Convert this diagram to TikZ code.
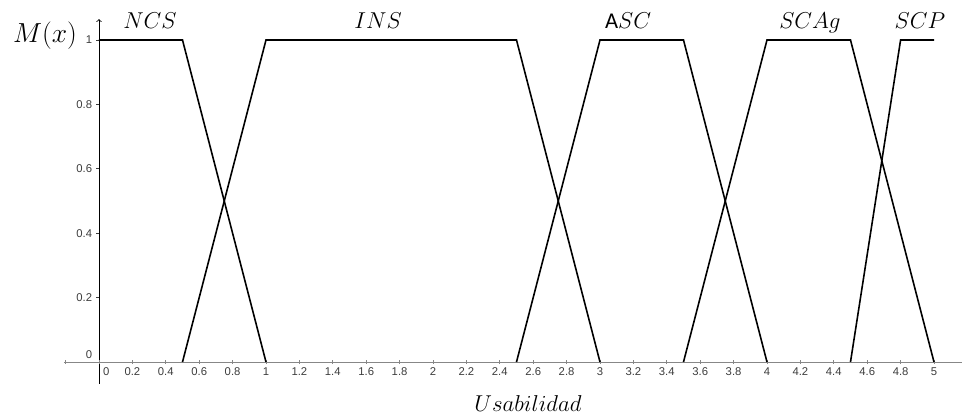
\documentclass[tikz,border=0pt]{standalone}
\usepackage{amsmath}
\usepackage{fontspec}
\newfontfamily\tickfont{Liberation Sans}
\newfontfamily\calfont{Carlito}
\usepackage{xcolor}
\usetikzlibrary{calc,positioning}
\definecolor{axisgray}{RGB}{135,135,135}
\definecolor{labelgray}{RGB}{60,60,60}

\begin{document}
\begin{tikzpicture}[x=4.4185cm,y=8.5196cm,
	ticklabel/.style={font=\tickfont\fontsize{8.5}{10}\selectfont,text=labelgray,inner sep=1pt},
	setname/.style={font=\fontsize{17}{19}\selectfont,anchor=base},
	member/.style={line width=1.2pt,black,line join=miter}]
	\useasboundingbox (-0.5928,-0.1646) rectangle (5.1677,1.1242);
	\draw [axisgray,line width=0.7pt](-0.21,0) -- (5.1677,0) coordinate(x axis);
	\draw [-to,line width=0.6pt](0,-0.068) -- (0,1.065) coordinate(y axis);
	\foreach \i in {-1,...,25}{
		\draw [axisgray,line width=0.5pt] ($(\i/5,0)+(0,1.2pt)$) -- ($(\i/5,0)+(0,-1.2pt)$);
	}
	\foreach \lab [count=\i] in {0.2,0.4,0.6,0.8,1,1.2,1.4,1.6,1.8,2,2.2,2.4,2.6,2.8,3,3.2,3.4,3.6,3.8,4,4.2,4.4,4.6,4.8,5}{
		\node [ticklabel,below=3pt] (xlab\i) at (\i/5,0) {\lab};
	}
	\node [ticklabel,below right=3pt and 2pt] (xlab0) at (0,0) {0};
	\foreach \lab [count=\i] in {0.2,0.4,0.6,0.8,1}{
		\draw [labelgray,line width=0.5pt] (0,\i/5) -- ++(-2.5pt,0);
		\node [ticklabel,left=4pt] (ylab\i) at (0,\i/5) {\lab};
	}
	\node [ticklabel,above left=1pt and 4pt] (ylab0) at (0,0) {0};
	\draw [member] (0,1) -- (0.5,1) -- (1,0);
	\draw [member] (0.5,0) -- (1,1) -- (2.5,1) -- (3,0);
	\draw [member] (2.5,0) -- (3,1) -- (3.5,1) -- (4,0);
	\draw [member] (3.5,0) -- (4,1) -- (4.5,1) -- (5,0);
	\draw [member] (4.5,0) -- (4.8,1) -- (5,1);
	\node [setname] (ncs) at (0.305,1.037) {$NCS$};
	\node [setname] (ins) at (1.671,1.037) {$INS$};
	\node [setname] (asc) at (3.168,1.037) {$\text{\calfont A}SC$};
	\node [setname] (scag) at (4.257,1.037) {$SCAg$};
	\node [setname] (scp) at (4.916,1.037) {$SCP$};
	\node [setname,font=\fontsize{20}{22}\selectfont] (mx) at (-0.323,0.991) {$M(x)$};
	\node [setname] (usab) at (2.569,-0.155) {$Usabilidad$};
\end{tikzpicture}
\end{document}
